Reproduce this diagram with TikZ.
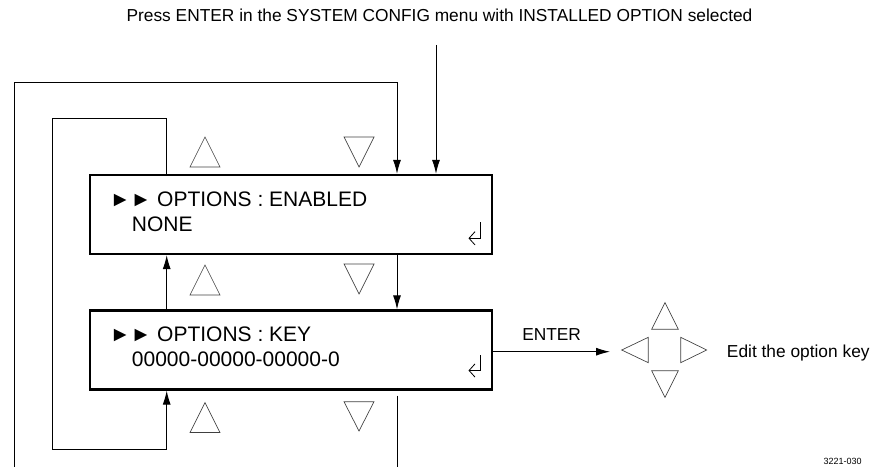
\documentclass[tikz,border=0pt]{standalone}
\usepackage{fontspec}
\setmainfont{Liberation Sans}
\usetikzlibrary{arrows.meta}

\begin{document}
\begin{tikzpicture}[
    x=0.75pt, y=-0.75pt,
    menubox/.style={rectangle, draw, line width=1.9pt, minimum width=301.5pt,
      minimum height=59pt},
    menutext/.style={anchor=base west, inner sep=0pt,
      font=\fontsize{15.75}{18}\selectfont},
    lbl/.style={inner sep=0pt, font=\fontsize{13}{15}\selectfont},
    arr/.style={-{Latex[length=10.5pt, width=6pt]}, line width=0.75pt},
    wire/.style={line width=0.75pt},
    tri/.style={draw=black!75, line width=0.5pt},
    retkey/.style={-{Straight Barb[length=4.5pt, width=10pt]}, line width=0.6pt}
  ]
  \useasboundingbox (0,0) rectangle (879,467);

  % Menu screens
  \node[menubox] (enabled) at (291,214.5) {};
  \node[menubox] (key) at (291,350) {};
  \node[menutext] (enabledhead) at (109.5,206.5) {►► OPTIONS : ENABLED};
  \node[menutext] (enabledval) at (131.7,231.7) {NONE};
  \node[menutext] (keyhead) at (109.5,341.7) {►► OPTIONS : KEY};
  \node[menutext] (keyval) at (131.7,366.7) {00000-00000-00000-0};
  \draw[retkey] (480.7,222) -- (480.7,238.3) -- (468.5,238.3);
  \draw[retkey] (480.7,355) -- (480.7,370.5) -- (468.5,370.5);

  % Entry from the SYSTEM CONFIG menu
  \node[lbl, anchor=base] (prompt) at (439.5,22)
    {Press ENTER in the SYSTEM CONFIG menu with INSTALLED OPTION selected};
  \coordinate (feed) at (436,45);
  \draw[arr] (feed) -- (feed |- enabled.north);

  % Up / down columns
  \coordinate (leftcol) at (166.7,0);
  \coordinate (rightcol) at (397,0);
  \draw[arr] (leftcol |- key.north) -- (leftcol |- enabled.south);
  \draw[arr] (rightcol |- enabled.south) -- (rightcol |- key.north);

  % Inner loop (up)
  \coordinate (innertop) at (52.5,118.3);
  \coordinate (innerbottom) at (52.5,449);
  \draw[arr] (leftcol |- enabled.north) |- (innertop) -- (innerbottom)
    -| (leftcol |- key.south);

  % Outer loop (down)
  \coordinate (outerleft) at (14,467);
  \coordinate (outertop) at (14,82.7);
  \coordinate (outerend) at (397,467);
  \draw[arr] (outerleft) -- (outertop) -| (rightcol |- enabled.north);
  \draw[wire] (outerend |- key.south) ++(0,5) -- (outerend);

  % Up / down buttons
  \draw[tri] (190,167) -- (205,137) -- (220,167) -- cycle;
  \draw[tri] (344,137) -- (359,167) -- (374,137) -- cycle;
  \draw[tri] (190,295) -- (205,265) -- (220,295) -- cycle;
  \draw[tri] (344,264) -- (359,294) -- (374,264) -- cycle;
  \draw[tri] (190,432.5) -- (205,402.7) -- (220,432.5) -- cycle;
  \draw[tri] (344,401.7) -- (359,431) -- (374,401.7) -- cycle;

  % Editing the key
  \coordinate (padin) at (610,351.7);
  \draw[arr] (key.east |- padin) -- (padin)
    node[lbl, midway, above=8.4pt] {ENTER};
  \draw[tri] (651.7,329.3) -- (665,302.7) -- (678.3,329.3) -- cycle;
  \draw[tri] (651.7,370.7) -- (665,397.3) -- (678.3,370.7) -- cycle;
  \draw[tri] (648.3,337.3) -- (621.7,350) -- (648.3,362.7) -- cycle;
  \draw[tri] (680.7,337.3) -- (706.7,350) -- (680.7,362.7) -- cycle;
  \node[lbl, anchor=base west] (edit) at (726.7,357.3) {Edit the option key};

  \node[anchor=base east, inner sep=0pt, font=\fontsize{6.75}{8}\selectfont]
    (figno) at (862,464) {3221-030};
\end{tikzpicture}
\end{document}
